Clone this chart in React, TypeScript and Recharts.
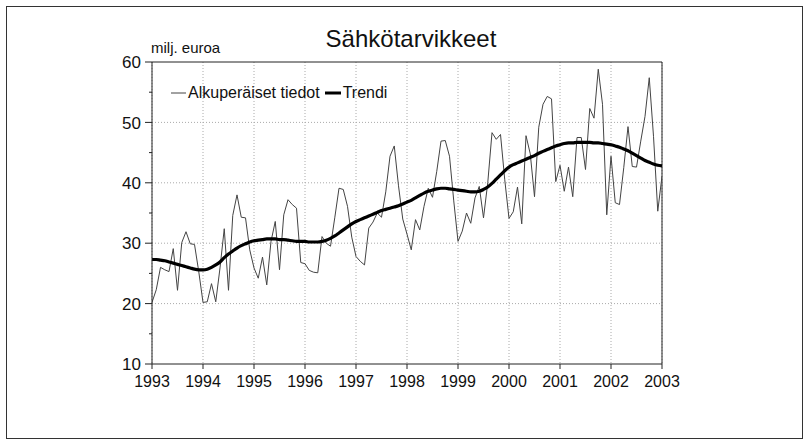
import React from 'react';
import { LineChart, Line, XAxis, YAxis, CartesianGrid, ReferenceLine } from 'recharts';

const startYear = 1993;
const years = [1993, 1994, 1995, 1996, 1997, 1998, 1999, 2000, 2001, 2002, 2003];
const yTicks = [10, 15, 20, 25, 30, 35, 40, 45, 50, 55, 60];
const gridValues = [20, 30, 40, 50];

// Alkuperäiset tiedot, monthly Jan 1993 .. Jan 2003
const original = [
  20.2, 22.3, 26.0, 25.6, 25.3, 29.1, 22.2, 30.1, 31.9, 29.9, 29.8, 25.3,
  20.2, 20.3, 23.3, 20.3, 25.9, 32.4, 22.2, 34.6, 38.0, 34.3, 34.2, 28.9,
  25.9, 24.2, 27.7, 23.1, 30.3, 33.6, 25.6, 34.7, 37.2, 36.4, 35.8, 26.8,
  26.6, 25.5, 25.2, 25.1, 31.1, 30.0, 29.5, 34.2, 39.1, 38.9, 36.1, 31.0,
  27.8, 27.0, 26.4, 32.5, 33.5, 35.0, 34.3, 38.5, 44.4, 46.1, 39.5, 34.0,
  31.5, 28.9, 33.9, 32.2, 36.1, 39.1, 37.6, 41.9, 46.9, 47.0, 44.4, 37.0,
  30.3, 32.0, 35.0, 33.3, 37.5, 39.4, 34.2, 40.0, 48.3, 47.2, 48.0, 40.5,
  34.1, 35.2, 39.3, 33.2, 47.8, 44.8, 37.7, 49.2, 53.0, 54.3, 53.9, 40.2,
  42.9, 38.6, 42.6, 37.7, 47.5, 47.5, 42.2, 52.3, 50.7, 58.8, 53.0, 34.7,
  44.4, 36.7, 36.4, 42.5, 49.3, 42.7, 42.6, 46.9, 51.0, 57.4, 47.7, 35.3,
  41.1,
];

// Trendi
const trend = [
  27.3, 27.3, 27.2, 27.1, 26.9, 26.7, 26.5, 26.3, 26.1, 25.9, 25.7, 25.6,
  25.6, 25.7, 26.0, 26.4, 26.9, 27.6, 28.2, 28.7, 29.2, 29.6, 29.9, 30.2,
  30.4, 30.5, 30.6, 30.7, 30.7, 30.7, 30.6, 30.6, 30.5, 30.4, 30.3, 30.3,
  30.3, 30.2, 30.2, 30.2, 30.3, 30.5, 30.8, 31.2, 31.7, 32.2, 32.7, 33.2,
  33.6, 33.9, 34.2, 34.5, 34.8, 35.1, 35.4, 35.6, 35.8, 36.0, 36.2, 36.5,
  36.8, 37.1, 37.5, 37.9, 38.3, 38.6, 38.8, 39.0, 39.1, 39.1, 39.0, 38.9,
  38.8, 38.7, 38.6, 38.5, 38.5, 38.6, 38.9, 39.3, 39.9, 40.6, 41.3, 42.0,
  42.6, 43.0, 43.3, 43.6, 43.9, 44.2, 44.5, 44.9, 45.2, 45.5, 45.8, 46.1,
  46.3, 46.5, 46.6, 46.6, 46.7, 46.7, 46.7, 46.7, 46.6, 46.6, 46.5, 46.4,
  46.3, 46.1, 45.9, 45.6, 45.3, 44.9, 44.5, 44.1, 43.7, 43.4, 43.1, 42.9,
  42.8,
];

const data = original.map((v, i) => ({ t: startYear + i / 12, original: v, trend: trend[i] }));

const FONT = '"Liberation Sans", Arial, Helvetica, sans-serif';

const YTick = (props: any) => {
  const { x, y, payload } = props;
  const major = payload.value % 10 === 0;
  const axisX = x + 11;
  return (
    <g>
      <line x1={axisX - (major ? 7 : 3)} x2={axisX} y1={y} y2={y} stroke="#222" strokeWidth={1} />
      {major && (
        <text x={x} y={y} dy="0.36em" textAnchor="end" fontSize={17} fill="#111" fontFamily={FONT}>
          {payload.value}
        </text>
      )}
    </g>
  );
};

export default function App() {
  return (
    <div style={{ position: 'absolute', left: 0, top: 0, width: 810, height: 445, background: '#fff', fontFamily: FONT }}>
      <div style={{ position: 'absolute', left: 6, top: 6, width: 795, height: 431, border: '1.5px solid #333' }} />
      <div style={{ position: 'absolute', left: 0, width: 822, top: 25, textAlign: 'center', fontSize: 24, color: '#111' }}>
        Sähkötarvikkeet
      </div>
      <div style={{ position: 'absolute', left: 151, top: 39, fontSize: 15, color: '#111' }}>milj. euroa</div>
      <div style={{ position: 'absolute', left: 0, top: 0 }}>
        <LineChart width={810} height={445} data={data} margin={{ top: 62, right: 148, left: 92, bottom: 51 }}>
          <CartesianGrid horizontal={false} vertical={true} stroke="#aaa" strokeDasharray="1 2" />
          {gridValues.map((g) => (
            <ReferenceLine key={g} y={g} stroke="#aaa" strokeDasharray="1 2" />
          ))}
          <ReferenceLine y={60} stroke="#222" strokeWidth={1} />
          <ReferenceLine x={2003} stroke="#222" strokeWidth={1} />
          <XAxis
            dataKey="t"
            type="number"
            domain={[1993, 2003]}
            ticks={years}
            interval={0}
            height={30}
            tickSize={5}
            tickMargin={7}
            stroke="#222"
            tick={{ fontSize: 16, fill: '#111', fontFamily: FONT }}
            allowDataOverflow
          />
          <YAxis
            domain={[10, 60]}
            ticks={yTicks}
            interval={0}
            width={60}
            tickSize={0}
            tickMargin={11}
            tickLine={false}
            stroke="#222"
            tick={<YTick />}
            allowDataOverflow
          />
          <Line type="linear" dataKey="original" stroke="#444" strokeWidth={1} dot={false} isAnimationActive={false} />
          <Line type="monotone" dataKey="trend" stroke="#000" strokeWidth={3.2} dot={false} isAnimationActive={false} />
        </LineChart>
      </div>
      <div style={{ position: 'absolute', left: 171, top: 84, display: 'flex', alignItems: 'center', fontSize: 16, color: '#111', whiteSpace: 'nowrap' }}>
        <svg width={15} height={10}><line x1={0} x2={15} y1={5} y2={5} stroke="#444" strokeWidth={1} /></svg>
        <span style={{ marginLeft: 2 }}>Alkuperäiset tiedot</span>
        <svg width={16} height={10} style={{ marginLeft: 5 }}><line x1={0} x2={16} y1={5} y2={5} stroke="#000" strokeWidth={3} /></svg>
        <span style={{ marginLeft: 2 }}>Trendi</span>
      </div>
    </div>
  );
}
